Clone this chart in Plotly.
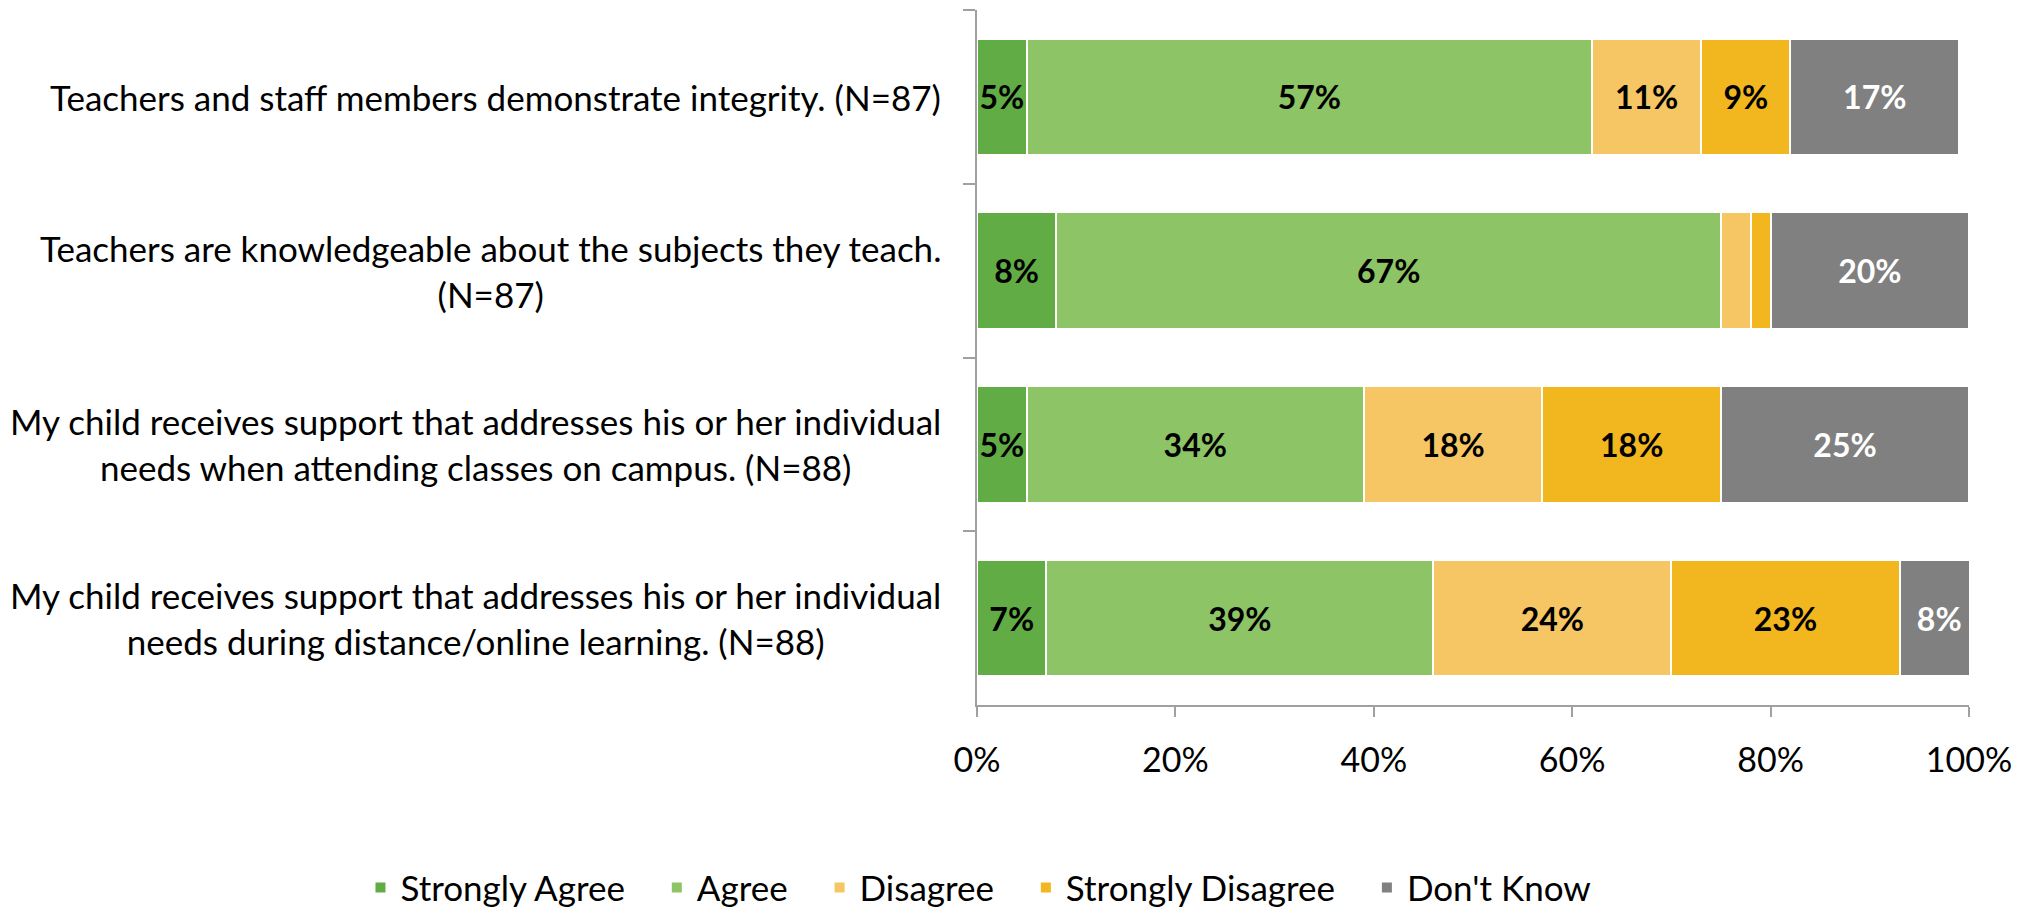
import plotly.graph_objects as go

# survey statements, top to bottom
statements = [
    "Teachers and staff members demonstrate integrity. (N=87)",
    "Teachers are knowledgeable about the subjects they teach.<br>(N=87)",
    "My child receives support that addresses his or her individual<br>needs when attending classes on campus. (N=88)",
    "My child receives support that addresses his or her individual<br>needs during distance/online learning. (N=88)",
]
row_ids = ["q1", "q2", "q3", "q4"]

strongly_agree = [5, 8, 5, 7]
agree = [57, 67, 34, 39]
disagree = [11, 3, 18, 24]
strongly_disagree = [9, 2, 18, 23]
dont_know = [17, 20, 25, 8]

series = [
    ("Strongly Agree", strongly_agree, "#62AC46", "black"),
    ("Agree", agree, "#8DC466", "black"),
    ("Disagree", disagree, "#F7C664", "black"),
    ("Strongly Disagree", strongly_disagree, "#F2B61E", "black"),
    ("Don't Know", dont_know, "#808080", "white"),
]

FONT = "Lato, 'Open Sans', sans-serif"
LABEL_FS = 35
TICK_FS = 34
DATA_FS = 32
PAD = "\u00a0" * 3  # a bit more room after each legend entry

fig = go.Figure()
for name, vals, color, tcolor in series:
    # tiny slices in the original carry no label
    labels = [f"{v}%" if v >= 4 else "" for v in vals]
    fig.add_trace(go.Bar(
        y=row_ids,
        x=vals,
        name=name + PAD,
        orientation="h",
        marker=dict(color=color, line=dict(color="white", width=2)),
        text=labels,
        textposition="inside",
        insidetextanchor="middle",
        textangle=0,
        textfont=dict(family=FONT, size=DATA_FS, color=tcolor, weight="bold"),
    ))

annotations = []
for rid, txt in zip(row_ids, statements):
    annotations.append(dict(
        x=0, xref="paper", y=rid, yref="y",
        text=txt, showarrow=False,
        xanchor="right", xshift=-34, align="center",
        font=dict(family=FONT, size=LABEL_FS, color="black"),
    ))

# page body has an 8px margin, so the figure is a bit smaller than the window
fig.update_layout(
    barmode="stack",
    bargap=0.33,
    width=2020,
    height=902,
    margin=dict(l=969, r=59, t=2, b=205, autoexpand=False),
    plot_bgcolor="white",
    paper_bgcolor="white",
    font=dict(family=FONT, size=TICK_FS, color="black"),
    uniformtext=dict(minsize=DATA_FS, mode="show"),
    annotations=annotations,
    legend=dict(
        orientation="h",
        x=-0.6215, xanchor="left",
        y=-0.263, yanchor="middle",
        font=dict(family=FONT, size=LABEL_FS),
        itemwidth=30,
        traceorder="normal",
    ),
)
fig.update_xaxes(
    range=[0, 100],
    tickvals=[0, 20, 40, 60, 80, 100],
    ticktext=["0%", "20%", "40%", "60%", "80%", "100%"],
    showgrid=False, zeroline=False,
    showline=True, linecolor="#A0A0A0", linewidth=2,
    ticks="outside", tickcolor="#A0A0A0", ticklen=10, tickwidth=2,
    ticklabelstandoff=14,
)
fig.update_yaxes(
    categoryorder="array", categoryarray=row_ids,
    autorange="reversed",
    showticklabels=False,
    showgrid=False, zeroline=False,
    showline=True, linecolor="#A0A0A0", linewidth=2,
    ticks="outside", tickson="boundaries", tickcolor="#A0A0A0", ticklen=12, tickwidth=2,
)

fig.write_html("out.html")
